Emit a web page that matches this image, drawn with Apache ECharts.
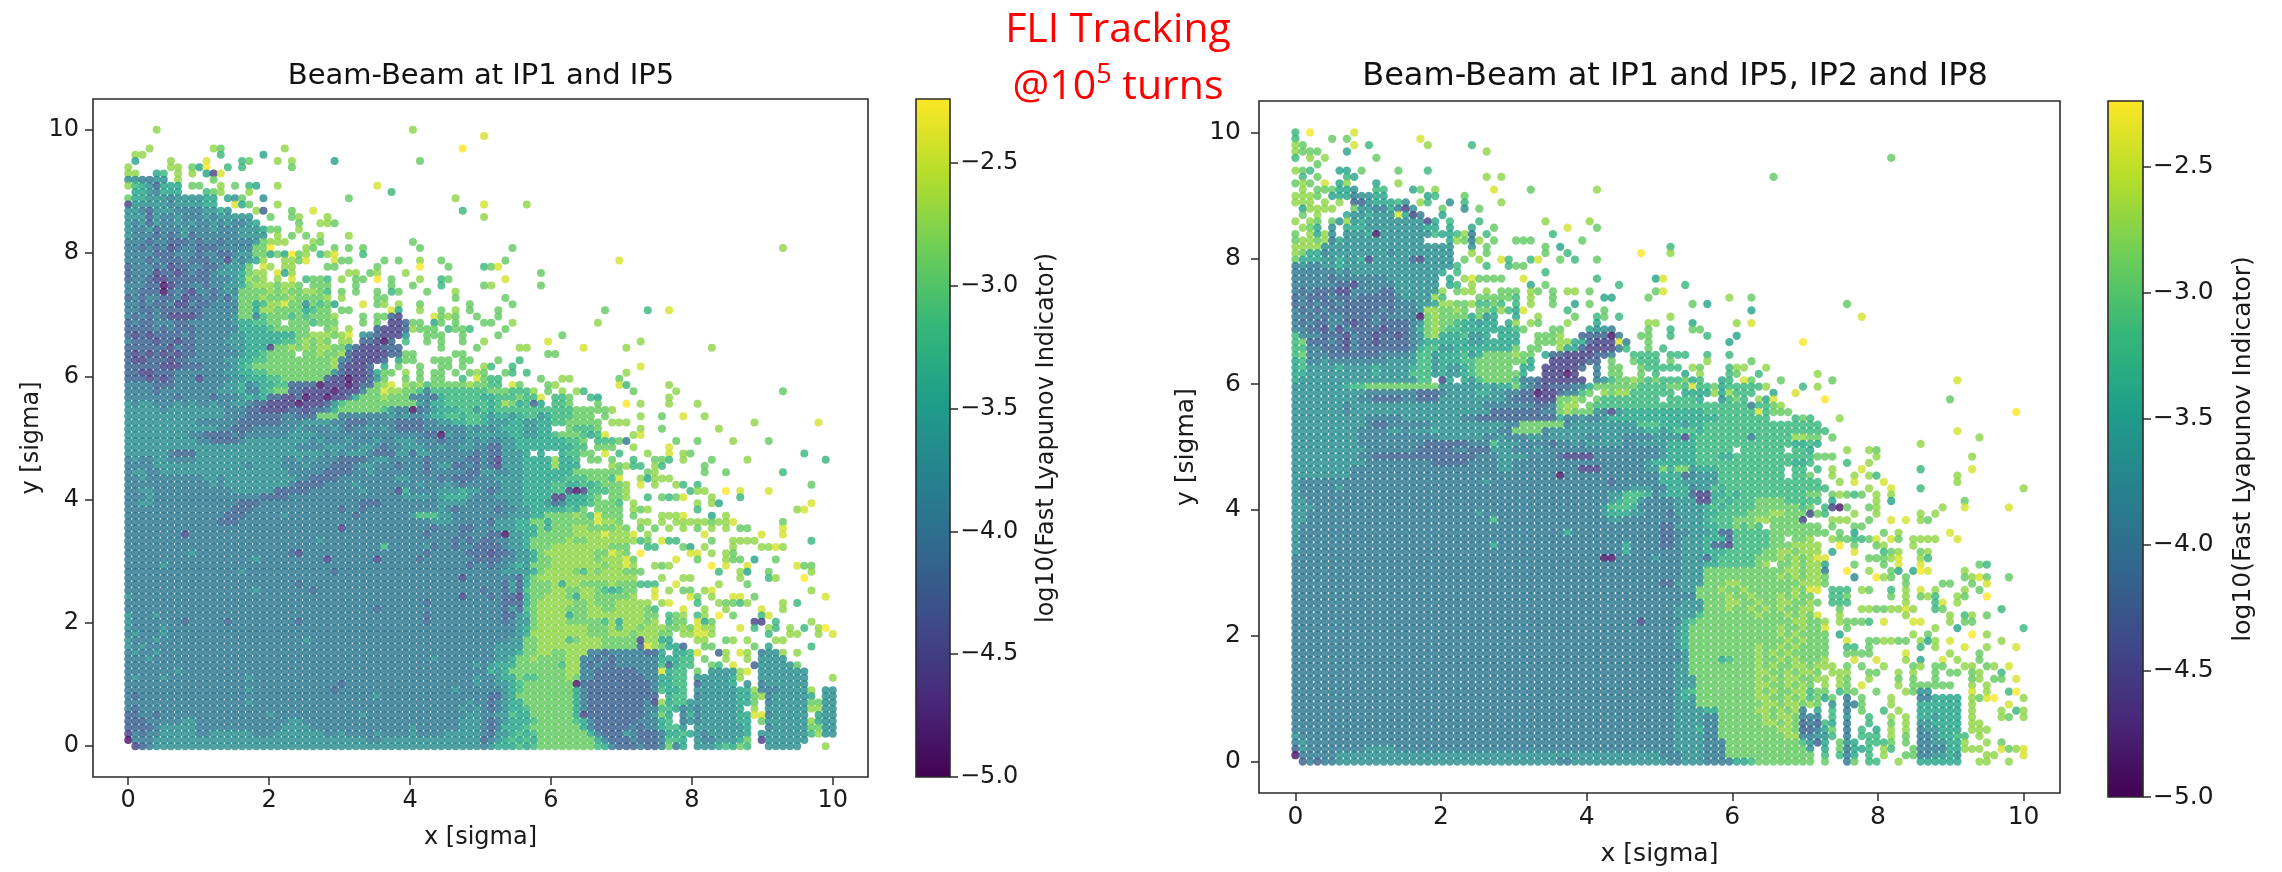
<!DOCTYPE html>
<html><head><meta charset="utf-8">
<style>html,body{margin:0;padding:0;background:#fff}#c{width:2282px;height:872px}</style>
<script src="https://cdn.jsdelivr.net/npm/echarts@6/dist/echarts.min.js"></script>
</head><body><div id="c"></div>
<script>
// FLI level (log10) for each code character
const levelCodes = "0123456789a";
const levelValues = [-4.9,-4.5,-4.2,-3.92,-3.68,-3.42,-3.18,-2.92,-2.72,-2.42,-2.22];
const gridCount = 100; // 100 x 100 amplitudes between 0 and 10 sigma
const sigmaMax = 10;
const xTicks = [0,2,4,6,8,10];
const yTicks = [0,2,4,6,8,10];
const cbarTicks = [-5,-4.5,-4,-3.5,-3,-2.5];
const cbarMin = -5, cbarMax = -2.24;
const viridis = ["#440154","#482878","#3e4989","#31688e","#26828e","#1f9e89","#35b779","#6ece58","#b5de2b","#fde725"];
const titleLeft = "Beam-Beam at IP1 and IP5";
const titleRight = "Beam-Beam at IP1 and IP5, IP2 and IP8";
const xName = "x [sigma]", yName = "y [sigma]", cbarName = "log10(Fast Lyapunov Indicator)";

// rows from y index 99 (top) to 0: "startColumn:levelcodes" segments; '.' = no particle, ',' = reading aid
const rowsLeft = [
"4:8 40:8","50:9","","3:8 12:87 22:8 47:a","1:88 13:6 19:5",
"1:5 6:8 11:9 16:67 21:8 23:8 29:5 41:7","0:8 6:88 9:75a 14:6 16:6 23:7","0:88 4:56 7:8 9:8 11:519","0:443344 7:8 12:7","0:86542555 9:77 13:8 15:7 17:65 21:8 35:9",
"1:5543555 11:678 17:8 37:6","0:7554443444,455 14:54 16:7 19:4 31:7 46:8","0:1444443444,455 15:957 21:8 50:9 56:8","0:4432444333,34454 18:82 23:7 26:9 47:6","0:4442433433,34344444 20:7 23:78 28:8 50:8",
"0:4342433434,334343345 24:7 27:887","0:4334233343,3343334445 20:77 24:8","0:4333232342,3333334444 21:8 23:7 25:7 27:8 31:8","0:3332332223,2332333344 19:7888 26:87 40:7","0:3323231233,2223333344 18:77a 25:87 29:7 31:7 33:7 41:7 54:7 92:8",
"0:3333222333,23322344 18:77575a78 27:689 33:6","0:3332322232,223314345 19:8 22:8879 29:977 36:7 38:7 41:8 44:7 53:7 69:9","0:2333231223,32234447 19:98 22:88 28:77 35:7 41:a 45:7 50:6 51:7 52:9","0:2333122123,2234445 17:788 21:958 31:88 34:78 39:8 58:7","0:2332112222,2233345 17:878 21:8 23:9 25:6776 30:8 32:77 35:a 37:7 41:8 44:67 53:9",
"0:3332201223,323344 16:578887887 26:777 32:7 37:7 40:7 44:6 50:7 51:8 58:7","0:3322202321,332343 16:777787877 25:8876 30:7 32:7 35:7 37:67 42:7 46:8","0:2323322312,232324 16:7778777877778 30:8 35:77 46:7 53:7","0:3323223113,223333 16:775688 22:9 23:77 25:4 26:767 29:5 33:9 35:78 38:8 41:7 48:7 54:7","0:3322322222,233333 16:77588777756 27:77 30:77 37:95 41:8 44:7 46:8 48:7 52:7 67:7 73:6 76:9",
"0:3232321111,233334 16:773 19:6777 23:6767 27:778 33:7 35:77 37:21 43:9 44:7 45:8 46:7 49:7 52:7","0:2322333223,333334 16:556677.7776 27:777 33:7 35:7 37:112 40:77 43:57 46:7 50:7 51:7 54:8 66:8","0:2222323222,333333 16:55556777 24:77.. 28:78 31:8 35:21112 40:877 43:7 45:6 46:77 48:6 53:7","0:2121222232,333334 16:45555 21:5557 25:7888 29:78 31:9 33:432111 39:4 42:77 44:7 47:7 52:7 61:7","0:3222122122,333344 16:45555 21:5667 25:878 28:7.8 31:8 33:22102 39:6 42:7 44:7 47:7 50:8 59:9 72:8",
"0:2222221322,333334 16:455 19:51 21:7787 25:8788 29:777 31:4 32:21112 37:22 44:7 49:7 55:88 64:9 70:8 82:8","0:2121212122,333333 16:455 19:6 20:7777 25:7787 29:78 31:2 32:1111122 39:77 46:77 59:77","0:2112221223,333344 16:5566 20:7777 24:7777 28:78 30:3 31:211112 38:5 39:77 43:77 45:7 47:77 52:7 55:6","0:2222211122,233334 16:5677 20:7777 24:7777 28:78 30:2 31:1112 36:5 38:7 41:7 44:77 47:7 50:8 51:6 54:6 72:9","0:2211222333,333344 15:45 17:5 18:667 21:7777 25:7777 29:4 30:211 33:12 35:5 36:77 39:8 41:7 43:77 46:7 48:78 50:7 53:7 54:6 56:6 70:8",
"0:2221212333,133334 15:44 17:5 18:556 21:6777 25:777 28:21 30:1011 34:2 35:4 36:7 39:7 41:7 43:77 47:6 49:9 50:7 51:66 58:7 61:88 69:7",
"0:3333222333,333344 15:45 17:3 18:45 20:5 21:66 23:222 26:2 27:0 28:1110 32:12 34:2 35:7 36:89 39:8 40:7 41:8 42:6 43:7 44:77 46:77 48:8 49:7 50:7 51:66 54:97 59:78 69:96 76:8",
"0:3333233333,333444 15:45 17:3 18:3 19:5 20:6 21:77 23:22 25:1 26:1110 30:111 33:3 34:7 35:7 36:9 37:88 39:77 41:6 42:3 43:6 44:6666666 51:77 53:7666 57:8 59:7 61:8 63:86 71:7 77:8 92:7",
"0:3333333233,332333 16:45 18:4 19:5 20:2 21:2 22:1 23:1 24:2 25:0 26:110 29:1 30:1 31:2 32:5 33:7 34:7 35:7 36:8 37:777 40:3 41:3 42:3 43:2 44:5666666 50:556 53:66 55:7 56:66 58:9 60:667 65:65 76:8",
"0:4344333434,334334 16:4 17:3 18:2 19:2 20:1 21:1 22:1 23:1 24:0 25:11 27:1 28:2 29:4 30:6 31:7777 35:777 38:7 39:7 40:7 41:4 42:3 43:5 44:566666 50:6 51:5 52:6 53:8 54:7 55:56 57:2 58:5 60:667 66:7 70:a 72:8 76:8 80:8",
"0:4444434444,444433 16:3 17:2 18:2 19:1 20:1 21:1 22:1 23:2 24:2 25:1 26:2 27:2 28:3 29:5 30:7 31:77777 36:6 37:4 38:3 39:3 40:0 41:2 42:3 43:4 44:55566 49:4 50:6 51:5 52:666666 58:6 59:6 60:66677777 68:8",
"0:4444444444,444433 16:3 17:2 18:2 19:2 20:2 21:2 22:3 23:3 24:2 25:2 26:2 27:7 28:7 29:7 30:3 31:3333 35:3 36:3 37:4 38:3 39:4 40:3 41:3 42:4 43:5 44:5665665 50:5455456645 60:6 61:66777 67:7 72:8 75:7 78:9 81:8"
];
const rowsLeft2 = [
"0:4444444444,3333332222,2233344443,3222333322,2233445566,5444554455,6677777 68:888 88:8 97:9",
"0:4444444444,4443322233,3333433334,3233434322,2233333343,4345554455,..76667 72:8 75:7 83:8",
"0:4444444443,3222232333,3334444333,3333333333,3322043344,4444554455,6777656 67:9 71:89",
"0:4444444444,3322223444,4444443433,3433343344,4333233343,4334455555,55667.6667 68:6 70:3 77:7 80:7 85:8 90:7",
"0:4444444444,4444444444,4444333344,4334432334,4433433443,3224455555,55566.777 71:8 76:9",
"0:4444443222,4444444444,4444444434,3444322244,2443333332,3224445.5.,.56677.6.6 67:9 69:6 73:8 76:9 78:87 95:6",
"0:3433443333,4444444444,4433434333,2222344333,3323333322,3214445555,8556.77.7. 71:6 74:776 78:8 82:7 87:8 98:6",
"0:3333444444,4444444344,4433343332,2234433323,3323442232,3214445555,8555....77 68:8 70:8 71:66 74:86 81:7",
"0:3443344444,4444444444,4443333322,2233433333,3323333322,4433445555,5557777777 69:7 73:78 81:7 84:7 92:6",
"0:3343333333,3443444444,4444332222,3333333344,3333232223,3344445555,5566677761 69:9 72:8588 76:8",
"0:3333333333,3343444444,4443222233,3343333333,3433343233,3334445555,6655656777 70:8 72:9 74:8 77:86 80:6 96:7",
"0:3344333333,3333344444,4222223333,3334333315,3333444544,3234445555,6610166677 70:8 79:688 84:a 86:9 90:9",
"0:3334333333,3333333332,2223333333,3333333334,4443455543,3344445555,1155567.77 70:8 73:6 75:7679 82:8 86:6",
"0:3344333333,3333332223,3333333333,3332223333,3333444433,3333445554,2355567776 71:8 80:8 82:85 96:9",
"0:3333333333,3333322233,3333333333,2332333333,3333432333,3323344555,55657.7777 71:878 80:6 94:89",
"0:3333333333,3333222333,3343333333,3323333333,4666443333,3333444557,7778769777 71:7 75:8889 82:5 84:8",
"0:3333333333,3332223333,3333333333,3333333333,3334443333,3244455775,7777779887 72:88 75:8 77:88 79:888 82:78 84:89 92:7",
"0:3333333333,3333333333,3333333333,1333333333,3332333223,3344455575,7778877778 70:7 72:7 74:7 76:8 78:8 80:7 82:8 84:8 86:77 92:9",
"0:3333333313,3333333333,3333333333,3333333333,3323333233,3220445577,7778888988 70:89 73:8 81:9 89:9 92:9",
"0:3333333333,3333333333,3333333433,3333333333,3333332323,2233445777,7787788888 70:88 72:67 75:9 76:66 82:7 85:8888 96:6",
"0:3333333333,3333333333,3333333333,3333336333,3342332332,2223445777,8888888877 70:7 73:66 78:75 81:8 85:8 89:8898",
"0:3333333334,3333333333,3332133333,3333333333,3323333322,2122344578,8888887798 70:7 72:a 79:99 82:8 84:87",
"0:3333333333,3333333343,3333333313,3333313333,3233333332,2223344577,8888887888 70:97 77:9 80:7 84:8 85:77 88:5 91:7",
"0:3333343333,3333333333,3333333333,3333333333,3333333323,3233454777,8888888788 70:98 74:878 82:a 84:9 87:9 94:977",
"0:3333333333,3333334333,3333333332,3333333333,3333333333,3334444578,8887687888 70:77 72:7 83:6 86:85 90:7 96:8",
"0:3333333333,3333333333,3333333333,3333333333,3333333133,3333325788,8888888888 70:88 75:8 78:88 86:8 90:68 95:a",
"0:3333333333,3333333333,3333233333,3333333333,3333333333,3332425777,8588777787 70:77 72:666 77:9 83:8 87:7",
"0:3333333333,3333333343,3333332333,3333333333,3333333333,2332426777,8877887656 70:77 74:9 76:8 78:77 81:89 96:8",
"0:4333333333,3333333333,3333333333,3333333333,3333333133,3232215778,8875887777 70:78 74:9 79:9 80:7 82:8 85:99 88:7 98:9",
"0:3333333333,3333333333,3333333333,3333333333,3323333333,3332225788,8887787778 70:8888 75:89 80:6 83:87768 92:8 94:6",
"0:3333333333,3333333333,3333333333,3333323333,3333333333,3332426788,8877788778 70:88876 78:9 81:8 84:8 89:9 92:8",
"0:4333433333,3333333333,3333333333,3333333333,3323333333,3332245788,8857788888 70:88877 76:678 80:68 83:a 85:7 89:69",
"0:4333333323,3333233333,3333233333,3333333333,3323333333,3332344788,8877777685 70:88878 76:67 78:7 80:95 82:7 88:11 91:6 96:8",
"0:4333343333,3333333333,3333333333,3333333333,3333333333,3333345788,8888877786 70:88788 75:877 78:87 80:98 82:8 86:9 88:6 90:86 93:8 95:6 97:8a",
"0:3433343333,3333333333,3333333333,3333333333,3333333333,3333345888,8888877788 70:87888 75:77 78:88998 90:6 93:88 97:8 99:9",
"0:4333433333,3333333333,3333343333,3333333333,3333333333,3333447788,8867888777 70:77188 75:55 80:88 84:78 87:8 91:88",
"0:4343333333,3333333333,3333333333,3333333333,3333333333,3344447788,8888888777 70:77298 75:7 76:55 78:2 81:77 88:7 90:5 96:6",
"0:3433433333,3333333333,3333333333,3333333333,3333333333,3344457788,7788833233 70:33322 75:5 77:556 80:9 83:2 84:8 86:98 89:344 92:8 94:8",
"0:3334333333,3333333333,3333333333,3333333333,3334333333,3344577877,7788332323 70:33333 75:5 76:5566 81:7 84:8 87:8 89:4444",
"0:3333333333,3333333333,3333333333,3333333333,3333333334,3455577777,7688323223 70:33333 75:6 76:2 77:566 82:76 85:9 88:2 89:444447",
"0:3333333433,3333333333,3333333333,3333333333,3333333333,3545777777,7788332222 70:22333 75:9 76:566 80:7 82:445 84:44 86:89 89:4444444",
"0:3433343333,3333333433,3333333333,3333333333,3333333334,3345576677,7787332222 70:22233 75:5 76:566 80:444445 86:8 89:4444444 99:8",
"0:3333333333,3333333333,3333333333,2333333333,3333333334,3344567777,7770222222 70:22223 75:5 76:566 80:244445 87:4 89:3444444",
"0:3333333333,3333333433,3333333332,3333333333,3333334333,3334567777,7775322222 70:22223 75:6 76:556 80:4444445 87:5 88:8 89:3334444 96:8 98:44",
"0:3233333333,3333333333,3333333333,3333343333,3333333333,3224577777,7775322222 70:22222 75:. 76:566 80:3444445 87:5 88:7 89:8 90:344444 96:5 98:44",
"0:3333333333,3333333433,3333333333,3333333333,3333333343,3234557777,7775322222 70:22231 75:8 76:566 79:4 80:4444445 87:5 88:7 90:344444 96:77 98:44",
"0:3233333333,3333333333,3333333333,3333333333,3333333434,3234556777,7775322222 70:22233 75:6 76:6 77:5 78:3 79:4 80:3444445 88:8 90:444444 96:8 97:8 98:44",
"0:2233233333,3333333333,4333333333,3334333333,3333333344,3344655777,7775122222 70:22234 75:7 76:5 78:3 79:5 80:3444445 87:5 88:9 89:9 90:344444 97:5 98:44",
"0:2223333344,3333333333,3334433333,3333333333,3333333444,3234555677,7776532222 70:22333 75:5 76:6 78:3 79:4 80:3444445 87:5 89:7 90:444444 96:8 97:5 98:44",
"0:2222344444,3333333333,3344443333,3333333333,4333333444,3235556777,7777532222 70:23233 75:5 76:66 78:4 80:4444444 87:5 90:344444 96:7 97:7 98:44",
"0:1323344444,3344444433,3444444433,4333343333,4333344444,3244565677,7777753222 70:43222 75:3 76:556 79:5 80:4344444 87:5 89:4 90:444444 96:6 97:8 98:44",
"0:0333444444,4444444444,4444444444,4444334444,4444444444,2345656577,7777775322 70:23222 75:3 76:66 78:5 80:4334445 87:7 89:1 90:444444",
"1:12344444 9:4,4444444444,4444444444,4444444444,4444444444,3455565677,7777776532 70:22322 75:3 76:7 77:3 78:5 80:4445 84:6 85:5 86:7 87:6 90:44444 98:8"
];
const rowsRight = [
"0:6 2:a 8:9","0:6 5:7 7:7 17:9","0:87 8:9 10:6 18:8 24:6","0:8777 7:5 26:8","0:6 2:8 4:8 11:7 81:7",
"3:7","0:876 6:55 9:7 14:7 18:6","1:6 3:7 7:65 26:8 28:8 65:7","0:787 4:9 6:58 11:5 14:8","1:8 3:777 6:554 11:66 16:57 19:8 27:9 32:7 41:8",
"0:8887 5:55 7:534455 18:56 23:7","0:888 4:8 6:8 8:22455564 17:8 18:6 21:4 23:6 28:8","1:58888 8:7 9:443353 15:14 20:7 23:4 25:7","1:7 3:8 7:5445 11:4445 14:9 15:5 16:1 17:3 20:5","0:8 2:87 5:748 8:4544444 15:4441 19:5 21:6 25:6 34:8 40:8",
"1:875 5:4 7:5554444 14:44445 19:5 21:5 24:5 27:7 37:9 41:7","0:7 2:858 5:4 7:4445044444 17:44 19:655 22:68 24:3 26:6 35:6","0:7887 4:835 7:4444444444 17:4 21:5 22:87 24:3 25:8 27:7 30:777 39:7","0:8888 4:4444 8:4444444444 18:4444 24:4 26:7 34:7 36:5 51:6","0:87553 5:4444 9:4444344444 19:444 24:8 26:7 34:7 37:6 47:a 51:8",
"0:7555445445,1444444 16:21 18:444 21:4 23:7 25:8 28:96 32:69 36:7 38:6 41:7","0:3433445444,4444444444,44 22:6 26:6 29:677","0:3333334344,4444444444 20:5 22:6 34:6","0:3333323333,3334444444 21:5 23:89777 27:77 31:9 41:6 49:59","0:3333332213,3333444444 21:56 24:8 32:5 34:7 44:6 53:6",
"0:3232221133,3322444444 20:8 22:78 24:8 26:8 28:777 32:87 35:7 37:88 40:7 49:79","0:2322232232,2222344448 20:6 25:777776 32:8 35:7 42:55 48:7 59:8 62:7","0:2323223222,2222333445 20:8 21:8 22:77 24:866 27:7 28:6 30:6 32:8 35:7 38:5 40:7 54:7 56:5 75:7","0:3232322222,2232333 17:4 18:8877 22:87 25:776 28:86 30:5 31:9 37:6 42:7 62:5","0:3323233222,2323333 17:0 18:787 21:7775 25:745 30:5 33:8 38:7 41:67 44:6 51:8 77:9",
"0:3232233212,2322223 17:4 18:787 21:765 23:55455 29:5 30:8 32:87 37:8 41:5 48:88 54:5 60:8 62:9","0:3322131322,2212223 17:5 18:7 19:87 21:6655 25:5555 29:5 30:6 31:7 35:77 40:5443 48:7 51:6 54:77","0:6333222132,2122123 17:4 18:78 20:5556 24:445 27:.55 30:5 33:7778 39:2222 43:0 44:3 47:7 48:7 51:6 56:6 60:5","0:6722232132,2122223 17:45 19:55555 24:4455 28:555 33:7778 37:8 38:55 40:21111 45:3 44:9 48:7 59:5 69:a","0:6633222132,2222223 17:5 18:66 20:4455 24:5555 28:55 30:7 32:77 36:8 37:55 39:2111 43:1 44:3 45:6 48:7 50:6",
"0:6733322222,2233334 17:66 19:4 20:5556 24:4577 28:77 30:87 32:7 34:5 35:22 37:1111 41:22 43:3 46:6666 51:666 56:6 59:6","0:5633433333,3334444 17:66 19:45 21:5566 25:7777 29:777 32:5 35:11 37:1112 40:22 43:7 46:7666 51:7 56:8 62:7","0:5644445444,4544445 17:66 19:45 21:4 22:456 25:777 28:77 31:55 34:1 35:1 36:1112 39:2 41:3 43:77 47:7666 51:66 54:87 59:688 64:8","0:5544444444,4544445 16:666 19:45 21:4 22:456 25:7777 29:7 30:7 31:5 34:11 36:10 38:1 41:3 43:77 47:7 49:6 53:5 55:8 59:67 63:6 71:8",
"0:5444444444,4444444 17:66 20:1 21:5 22:.5 24:4 25:6777 29:7 30:6 31:3 32:3 33:2 34:1 35:11 37:1 38:11 41:3 42:4 43:6 44:7 45:7 46:8 47:7 48:6 49:7 50:666 53:7 54:56 58:56 61:97 66:7 73:7 90:9",
"0:4444444566,7777777777,4444445455,7432122233,5777777666,6766666666,7 52:7 54:9 56:67 58:5 60:66668 69:6 71:8",
"0:4444444444,3333333222,3444455443,3220112336,7.87886666,66.5565558 55:5 57:8 58:5 60:666 65:5 68:9",
"0:4444444443,3222233222,4444444443,2221117787,.766666666,.6666 55:5 58:4 59:67 61:6 63:8 64:5 65:9 72:a 89:7",
"0:4444444344,4444444444,4444443333,333223788.,7666666666,6666666666,66366 65:7 66:8",
"0:4444444344,4444444444,4444444222,2222337877,7431455555,5555556666,666966 65:777 98:a",
"0:4444444444,3333344444,4443322222,2222225334,3345555555,5555555566,6666 64:6 68:676 74:8"
];
const rowsRight2 = [
"0:4444444444,3223333334,4444444443,3777777344,4444444666,5554556666,6666666666 70:66",
"0:4444444443,3334434445,4444444433,7777344444,4444444455,4566656666,6666666666 70:66 72:6 90:9",
"0:4444444443,3333333333,4444443343,3344344444,3344433334,4441566666,6636666668 68:8 70:77 71:7 73:7 93:8",
"0:4444444443,3333333322,2222333644,4333323343,4444433444,4555566666,6666666655 70:65 85:8",
"0:4444444444,3333333222,2233222444,3334333333,3333333333,4555566666,.666666.66 70:5 75:8 78:87",
"0:4444444443,3222222222,2222233344,4433332111,1333333333,4555566655,6666666666 70:6 71:777 79:8 92:8",
"0:4444444444,3333333332,2222333344,3333333333,3333333345,5555566666,6666666655 70:6 75:6 78:8",
"0:4444444433,3333333333,3333333344,3333333331,1133333344,7577455566,6666666.66 71:6 73:8 77:9 85:6 92:9",
"0:4444444433,3333333333,3333333333,3333330333,3333333333,5552344466,6666666.66 70:7 73:8 76:8 78:86 90:8",
"0:4333333333,3333333333,3333334333,3333333333,3332333333,5554444466,6666666666 70:66 74:8 76:9 80:9 90:8",
"0:4333334333,3333333333,3333333333,3333333333,3333334443,3555344656,6666666666 70:66 72:6 78:8 81:9 85:6 99:8",
"0:4333333333,3333333333,3333333333,3333333333,3334466653,4555211556,5666666666 70:77 73:78767 79:8 81:8",
"0:4433333333,3333333333,3333333333,3333333333,3334566433,3344411565,6667777666 70:66 73:5 81:5 79:8 91:7",
"0:4443333333,3333333333,3333333333,3333333333,3346665333,3344445656,6667777776 70:7 72:6 73:10 75:7 78:78 88:8 91:9 97:9",
"0:4433333333,3333333333,3333343333,3333333333,3345554433,3244445566,6677788777 70:17 72:6 76:8 79:8 85:8 87:8",
"0:4433333333,3333333333,3333333633,3333333333,3334433333,3334445666,7778877777 69:1 73:888 78:7 81:9 83:9 85:87",
"0:4333333333,3333333333,3333333333,3333333333,3333333333,2244445566,7676.77777 70:77 73:7 76:77",
"0:4333333333,3333333333,3333333333,3333333533,3333333333,2233444522,6666677777 70:777 74:7 76:5 80:7 82:8 89:9",
"0:4333333333,3333333333,3333333333,3333333333,3333333333,2234445552,6666677.77 70:8 73:877667 79:9 81:9 82:7 84:8888 90:9",
"0:4333333333,3333333333,3333333533,3333333333,3333353333,2234445221,6666677788 70:88 74:a 76:7 79:78 84:8",
"0:4333333333,3333333333,3333333333,3333333333,3333353333,3334445556,6666778878 70:88 73:5 76:9 80:678 85:78",
"0:3333333333,3333333333,3333333333,3333333333,3300333334,3334442566,6667778787 70:89 72:9 78:77 80:789 85:86",
"0:3333333333,3333333333,3333333333,3333333333,3333333333,3334445566,66678.7787 70:88 72:5 76:7 80:7 82:9 85:9 93:76",
"0:3333333333,3333333333,3333333333,3333333333,3333333333,3334447777,7777777887 70:88 72:3 75:a 78:8 81:7 82:5 84:5a9 91:8",
"0:3333333333,3333333333,3333333333,3333333333,3333333333,3334447777,7777778787 70:88 72:7 76:4 79:a 80:87 83:7 91:7897 97:7",
"0:3333333333,3333333333,3333333333,3333333333,3333333333,2244447778,8777777778 70:88 72:7 83:7 88:77 92:7 94:9",
"0:3333333333,3333333333,3333333333,3333333333,3333333333,3334477787,7877777787 70:99 73:666 77:87 81:6 83:8 85:9 87:8 91:8 93:7",
"0:3333333333,3333333333,3333333333,3333333333,3333333333,3333377778,7787778787 70:7 73:667 81:7 83:8 85:78 87:6 90:8 91:7 94:a",
"0:3333333333,3333333333,3333333333,3333333333,3333333333,3334447778,8778778877 70:87 73:666 83:8 87:69 90:8",
"0:3333333333,3333333333,3333333333,3333333333,3333333333,3344447778,7787878778 70:8. 74:7 77:88778898 87:67 96:6",
"0:3333333333,3333333333,3333333333,3333333333,3333333333,3344467777,7778777878 70:7 71:9 74:8 83:8 89:8 91:68 94:7",
"0:3333333333,3333333333,3333333333,3333333333,3333333133,3335677777,7777777788 70:77 72:8 74:8 75:7776 80:9 84:99 89:8 91:77",
"0:3333333333,3333333333,3333333333,3333333333,3333333333,3345777777,7777778778 70:77 72:9 75:7 87:8 90:5 99:6",
"0:3333333333,3333333333,3333333333,3333333333,3333333333,3345777777,7777778787 70:77 72:7 74:5 84:8 86:7 92:a 94:8",
"0:3333333333,3333333333,3333333333,3333333333,3333333333,3345777777,7777777878 70:77 72:7 75:9 78:778 81:877 85:8 86:5 87:8 89:9 96:8",
"0:3333333333,3333333333,3333333333,3333333333,3333333333,3345777777,7778778787 70:77 72:7 75:66 78:7 85:6 87:8 91:9 94:8 98:9",
"0:3333333333,3333333333,3333333333,3333333333,3333333333,3334777777,7778787877 70:77 72:7 75:7777 83:9 89:8 93:7",
"0:3333333333,3333333333,3333333333,3333333333,3333333333,3334777756,7778778787 70:77 72:8 76:9 79:9 83:8 85:5 88:9 90:8 93:7",
"0:3333333333,3333333333,3333333333,3333333333,3333333333,3344777777,7778787788 70:78 72:88 75:7 77:7 80:8 84:78 87:7 88:7 91:88 94:78 97:9",
"0:3333333333,3333333333,3333333333,3333333333,3333333333,3344777777,7778877878 70:8 71:7 73:88 75:8 78:77 82:8 84:8 87:7 89:77 92:78 96:6",
"0:3333333333,3333333333,3333333333,3333333333,3333333333,3344477777,7778787887 70:78 72:8 74:87 78:8 82:7 84:7 87:7 92:78 95:77 98:9",
"0:3333333333,3333333333,3333333333,3333333333,3333333333,3344477777,7778877878 70:7 72:8 74:87 77:9 82:8 84:777 87:777 92:8 94:8",
"0:3333333333,3333333333,3333333333,3333333333,3333333333,3345677777,7778787788 70:67 72:7 74:6 75:77 79:7 83:87 85:44 92:9 94:8 97:6 98:a",
"0:3333333333,3333333333,3333333333,3333333333,3333333333,3345477777,7778877878 70:67 72:5 73:7 75:3 77:7 81:8 85:33555 90:5 92:87 94:9a 99:8",
"0:3333333333,3333333333,3333333333,3333333333,3333333333,3344477777,7777887887 70:87 73:4 75:33 77:7 81:8 85:55555 90:5 92:8 97:9",
"0:3333333333,3333333333,3333333333,3333333333,3333333333,3344445577,7778878787 69:3 71:5 73:6 75:3 77:7 80:6 82:8 85:55555 90:5 92:8 96:8 98:68",
"0:3333333333,3333333333,3333333333,3333333333,3333333333,3344443377,7777878878 69:333 73:6 75:4 78:6 81:8 83:8 85:55455 90:5 92:8 96:8 97:7 99:8",
"0:3333333333,3333333333,3333333333,3333333333,3333333333,3344443377,7777887878 69:232 72:6 73:5 75:3 78:6 81:7 83:8 85:44555 90:5 92:88",
"0:3333333333,3333333333,3333333333,3333333333,3333333333,3344453377,7777778878 69:223 72:5 73:7 75:3 77:6 79:5 81:8 83:8 85:34455 90:5 92:88 94:8",
"0:4333333333,3333333333,3333333333,3333333333,3333333333,3344443377,7777777887 69:3 70:344 73:6 75:3 77:66 79:6 81:8 83:7 85:33455 90:6 91:6 93:8",
"0:3433333333,3333333333,3333333333,3333333333,3333333333,3344443337,7777777777 69:6 70:4 71:2 72:5 74:7 75:4 76:5 78:66 80:6 81:7 83:7 85:33445 90:5 91:8 94:8 96:7",
"0:2433333333,4444333333,3333333333,3333333333,3333333333,3344443337,7777777777 70:4 72:5 74:7 75:3 76:55 78:6 80:8 81:6 84:7 85:33335 90:5 91:888 93:8 96:9 97:788 99:9",
"0:0333334444,4444444444,4444444444,4444444444,4444444444,3334443337,7777777777 70:7 72:6 74:6 75:3 76:5 78:6 80:8 83:778 85:33445 90:4 94:88 99:9",
"1:2323344444,4444444444,4444444444,4444433444,4444444444,3344433335,5677777777 70:7 72:7 75:3 76:7 78:66 82:8 85:555555 93:88 97:8"
];

const allLeft = rowsLeft.concat(rowsLeft2), allRight = rowsRight.concat(rowsRight2);
const allRowsTop = gridCount-1;
function decode(rows){
  const cells = new Map();
  const top = rows.length-1; // bottom row is always y index 0
  rows.forEach((row,i)=>{
    const r = top - i;
    if(r>allRowsTop) return;
    row.split(" ").filter(Boolean).forEach(seg=>{
      const p = seg.split(":"); if(p.length<2) return;
      let c = +p[0];
      for(const ch of p[1]){
        if(ch===",") continue;
        const lv = levelCodes.indexOf(ch);
        if(ch==="."){ cells.delete(r*1000+c); c++; continue; }
        if(lv>=0) cells.set(r*1000+c,[c,r,levelValues[lv]]);
        c++;
      }
    });
  });
  const step = sigmaMax/(gridCount-1), out=[];
  cells.forEach(v=>out.push([v[0]*step,v[1]*step,v[2]]));
  return out;
}
const pointsLeft = decode(allLeft), pointsRight = decode(allRight);

const INK="#2b2b2b", FF="'DejaVu Sans'", TXT="#1a1a1a";
const panels=[
 {g:{left:93,top:99,width:775,height:678}, c:{left:916,top:99,width:34,height:678}, t:titleLeft, d:pointsLeft, fs:24, tfs:29, tx:476, ttop:57, yMargin:14, yGap:49, xGap:49, cbGap:85, size:8},
 {g:{left:1259,top:101,width:801,height:696}, c:{left:2108,top:101,width:35,height:696}, t:titleRight, d:pointsRight, fs:25, tfs:32, tx:1670, ttop:56, yMargin:18, yGap:60, xGap:49, cbGap:88, size:8.3}
];
function base(p,vals,margin){
  return {axisLine:{show:false,onZero:false},splitLine:{show:false},
    axisTick:{length:8,lineStyle:{color:INK,width:1.5},customValues:vals},
    axisLabel:{color:TXT,fontSize:p.fs,fontFamily:FF,margin:margin,customValues:vals},
    nameMoveOverlap:false,nameTextStyle:{color:TXT,fontSize:p.fs,fontFamily:FF}};
}
const grid=[],xAxis=[],yAxis=[],series=[],titles=[];
panels.forEach((p,i)=>{
  grid.push(Object.assign({show:true,backgroundColor:"#fff",borderColor:INK,borderWidth:1.6,containLabel:false},p.g));
  xAxis.push(Object.assign(base(p,xTicks,12),{gridIndex:i,type:"value",min:-0.5,max:10.5,name:xName,nameLocation:"middle",nameGap:p.xGap}));
  yAxis.push(Object.assign(base(p,yTicks,p.yMargin),{gridIndex:i,type:"value",min:-0.5,max:10.5,name:yName,nameLocation:"middle",nameGap:p.yGap}));
  series.push({type:"scatter",xAxisIndex:i,yAxisIndex:i,data:p.d,symbolSize:p.size,large:false,progressive:0,silent:true,animation:false,clip:false});
});
const grad=new echarts.graphic.LinearGradient(0,1,0,0,viridis.map((c,i)=>({offset:i/(viridis.length-1),color:c})));
panels.forEach((p,i)=>{
  const k=i+2, b=base(p,cbarTicks,10);
  b.axisLabel.formatter=v=>Number(v).toFixed(1).replace("-","\u2212");
  grid.push(Object.assign({show:false},p.c));
  xAxis.push({gridIndex:k,type:"value",show:false,min:0,max:1});
  yAxis.push(Object.assign(b,{gridIndex:k,type:"value",position:"right",min:cbarMin,max:cbarMax,name:cbarName,nameLocation:"middle",nameGap:p.cbGap,nameRotate:90}));
  series.push({type:"custom",xAxisIndex:k,yAxisIndex:k,silent:true,animation:false,data:[[0,cbarMin]],clip:false,
    renderItem:(params,api)=>{const s=params.coordSys;return {type:"rect",shape:{x:s.x,y:s.y,width:s.width,height:s.height},style:{fill:grad,stroke:INK,lineWidth:1.6}};}});
  titles.push({text:p.t,left:p.tx,top:p.ttop,textAlign:"center",textStyle:{color:"#111",fontSize:p.tfs,fontWeight:"normal",fontFamily:FF}});
});
titles.push({text:"FLI Tracking",left:1113,top:5,textAlign:"center",textStyle:{color:"#ff0000",fontSize:41,fontWeight:"normal",fontFamily:"'Open Sans'"}});
titles.push({text:"{a|@10}{s|5}{a| turns}",left:1113,top:57,textAlign:"center",textStyle:{fontWeight:"normal",rich:{a:{color:"#ff0000",fontSize:41,fontWeight:"normal",fontFamily:"'Open Sans'",lineHeight:50},s:{color:"#ff0000",fontSize:27,fontWeight:"normal",fontFamily:"'Open Sans'",verticalAlign:"top",lineHeight:50,padding:[0,0,14,0]}}}});
const chart=echarts.init(document.getElementById("c"),null,{renderer:"canvas"});
chart.setOption({animation:false,backgroundColor:"#fff",title:titles,grid,xAxis,yAxis,series,
  visualMap:[{show:false,seriesIndex:[0,1],dimension:2,min:cbarMin,max:cbarMax,inRange:{color:viridis}}]});
</script></body></html>
